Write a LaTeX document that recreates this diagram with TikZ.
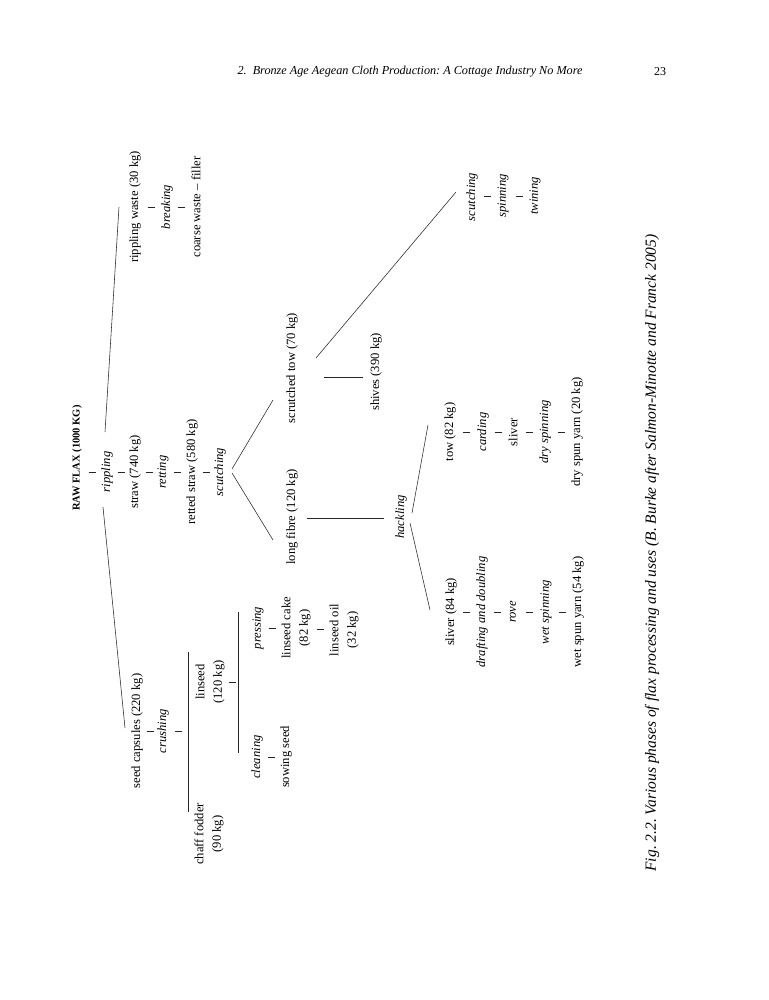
\documentclass[tikz,border=0pt]{standalone}
\usepackage{fontspec}
\setmainfont{Liberation Serif}
\frenchspacing
\usetikzlibrary{calc}
\tikzset{every node/.style={inner sep=2pt}, % small gap round every label
      item/.style={ % products and their weights
      rotate=90, align=center,
      font=\fontsize{12.6}{17.5}\selectfont},
      proc/.style={ % processing steps, in italics
      item, font=\fontsize{12.6}{17.5}\selectfont\itshape},
      branch/.style={draw=black!85, line width=0.55pt}, % forks and bars
      tickmark/.style={ % short stroke half way between two steps
      draw=black!85, line width=0.6pt,
      to path={($(\tikztostart)!#1!(\tikztotarget)$) +(-3.5,0) -- +(3.5,0)}},
      tickmark/.default=.5}

\begin{document}
\begin{tikzpicture}[x=1pt, y=-1pt]
      \useasboundingbox (0,0) rectangle (768,1000);
      \fill[white] (0,0) rectangle (768,1000);
      % running head and caption
      \node[font=\fontsize{12.2}{14}\selectfont\itshape] (head) at (410,72) {2.\enspace Bronze Age Aegean Cloth Production: A Cottage Industry No More};
      \node[font=\fontsize{12}{14}\selectfont] (page) at (660,72) {23};
      \node[rotate=90, font=\fontsize{15.5}{18}\selectfont\itshape] (caption) at (652,553) {Fig. 2.2. Various phases of flax processing and uses (B. Burke after Salmon-Minotte and Franck 2005)};
      % main stem
      \node[item, font=\fontsize{10.5}{12}\selectfont\bfseries] (rawflax) at (77,458) {RAW FLAX (1000 KG)};
      \node[proc] (rip) at (107,472) {rippling};
      \node[item] (straw) at (135,472) {straw (740 kg)};
      \node[proc] (ret) at (163,472) {retting};
      \node[item] (rstraw) at (192,472) {retted straw (580 kg)};
      \node[proc] (scut) at (220,472) {scutching};
      \coordinate (rawfoot) at (rawflax |- rip);
      \draw[tickmark] (rawfoot) to (rip);
      \draw[tickmark] (rip) to (straw);
      \draw[tickmark] (straw) to (ret);
      \draw[tickmark] (ret) to (rstraw);
      \draw[tickmark] (rstraw) to (scut);
      % rippling waste
      \node[item] (rwaste) at (135,207) {rippling waste (30 kg)};
      \node[proc] (breaking) at (167,207) {breaking};
      \node[item] (cwaste) at (196,207) {coarse waste \textendash\ filler};
      \draw[tickmark] (rwaste) to (breaking);
      \draw[tickmark] (breaking) to (cwaste);
      \draw[branch] ($(rip)+(-2,-40)$) -- ($(rwaste)+(-16,0)$);
      % seed capsules
      \node[item] (seedcap) at (137,731) {seed capsules (220 kg)};
      \node[proc] (crushing) at (163,731) {crushing};
      \node[item] (linseed) at (210,682) {linseed\\(120 kg)};
      \node[item] (chaff) at (209,834) {chaff fodder\\(90 kg)};
      \node[proc] (pressing) at (258,628) {pressing};
      \node[item] (cake) at (296,628) {linseed cake\\(82 kg)};
      \node[item] (oil) at (344,630) {linseed oil\\(32 kg)};
      \node[proc] (cleaning) at (257,757) {cleaning};
      \node[item] (sowing) at (286,757) {sowing seed};
      \coordinate (bar1c) at (188,731);
      \coordinate (bar2c) at (238,682);
      \draw[branch] ($(rip)+(-4,35)$) -- ($(seedcap)+(-12,-3)$);
      \draw[tickmark] (seedcap) to (crushing);
      \draw[tickmark=.6] (crushing) to (bar1c);
      \draw[branch] ($(linseed)+(-22,-30)$) -- ($(chaff)+(-21,-22)$);
      \draw[tickmark=.79] (linseed) to (bar2c);
      \draw[branch] ($(pressing)+(-20,-16)$) -- ($(cleaning)+(-19,-4)$);
      \draw[tickmark=.37] (pressing) to (cake);
      \draw[tickmark] (cake) to (oil);
      \draw[tickmark] (cleaning) to (sowing);
      % scutching
      \node[item] (stow) at (292,368) {scrutched tow (70 kg)};
      \node[item] (lfibre) at (292,517) {long fibre (120 kg)};
      \node[item] (shives) at (376,372) {shives (390 kg)};
      \node[proc] (hackl) at (401,517) {hackling};
      \draw[branch] ($(scut)+(12,-3)$) -- ($(stow)+(-19,32)$);
      \draw[branch] ($(scut)+(12,1)$) -- ($(lfibre)+(-19,23)$);
      \draw[branch] ($(stow)+(32,9)$) -- ($(shives)+(-13,5)$);
      \draw[branch] ($(lfibre)+(15,1)$) -- ($(hackl)+(-17,1)$);
      % scrutched tow
      \node[proc] (scut2) at (472,197) {scutching};
      \node[proc] (spin) at (503,196) {spinning};
      \node[proc] (twin) at (535,196) {twining};
      \draw[branch] ($(stow)+(24,-10)$) -- ($(scut2)+(-16,-5)$);
      \draw[tickmark] (scut2) to (spin);
      \draw[tickmark] (spin) to (twin);
      % hackling
      \node[item] (tow) at (450,432) {tow (82 kg)};
      \node[proc] (carding) at (483,432) {carding};
      \node[item] (sliv) at (513,432) {sliver};
      \node[proc] (dryspin) at (545,432) {dry spinning};
      \node[item] (dryyarn) at (577,432) {dry spun yarn (20 kg)};
      \node[item] (sliver) at (451,612) {sliver (84 kg)};
      \node[proc] (drafting) at (482,612) {drafting and doubling};
      \node[proc] (rove) at (513,612) {rove};
      \node[proc] (wetspin) at (546,612) {wet spinning};
      \node[item] (wetyarn) at (578,612) {wet spun yarn (54 kg)};
      \draw[branch] ($(hackl)+(11,-4)$) -- ($(tow)+(-22,-7)$);
      \draw[branch] ($(hackl)+(9,6)$) -- ($(sliver)+(-21,-2)$);
      \draw[tickmark] (tow) to (carding);
      \draw[tickmark] (carding) to (sliv);
      \draw[tickmark] (sliv) to (dryspin);
      \draw[tickmark] (dryspin) to (dryyarn);
      \draw[tickmark] (sliver) to (drafting);
      \draw[tickmark] (drafting) to (rove);
      \draw[tickmark] (rove) to (wetspin);
      \draw[tickmark] (wetspin) to (wetyarn);
\end{tikzpicture}
\end{document}
